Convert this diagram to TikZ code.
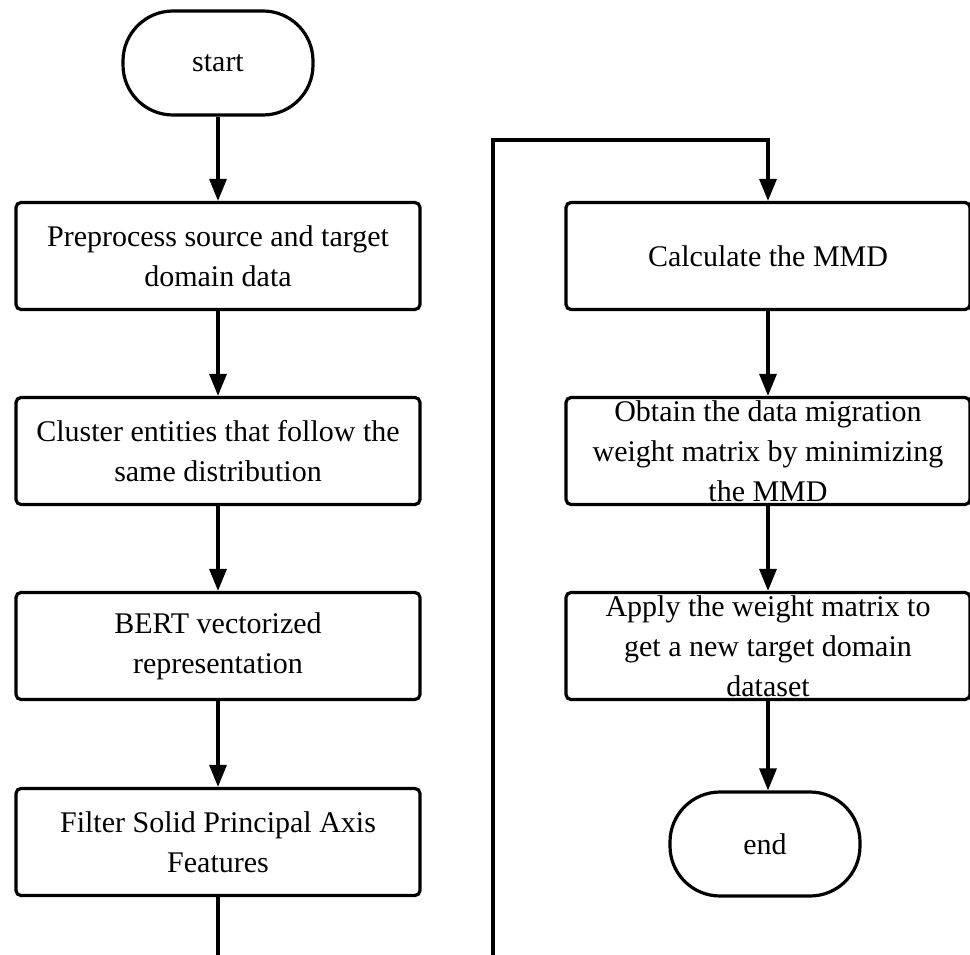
\documentclass[tikz,border=0pt]{standalone}
\usepackage{fontspec}
\setmainfont{Liberation Serif}
\usetikzlibrary{arrows.meta}
\tikzset{
  stepbox/.style={draw, line width=3.2pt, rounded corners=5pt, align=center,
    minimum width=404pt, minimum height=107pt, inner sep=0pt,
    font=\fontsize{30}{40}\selectfont},
  termbox/.style={draw, line width=3.2pt, rounded corners=50pt, align=center,
    minimum width=190pt, minimum height=104pt, inner sep=0pt,
    font=\fontsize{30}{40}\selectfont},
  flow/.style={line width=3.2pt, -{Triangle[length=22pt,width=17pt]}}
}
\begin{document}
\begin{tikzpicture}[x=1pt,y=-1pt]
\useasboundingbox (0,0) rectangle (970,955);
% left column
\node[termbox] (start) at (218,63) {start};
\node[stepbox] (prep) at (218,256) {Preprocess source and target\\domain data};
\node[stepbox] (clus) at (218,451) {Cluster entities that follow the\\same distribution};
\node[stepbox] (bert) at (218,646) {BERT vectorized\\representation};
\node[stepbox] (filt) at (218,842) {Filter Solid Principal Axis\\Features};
% right column
\node[stepbox] (mmd) at (768,256) {Calculate the MMD};
\node[stepbox] (obtain) at (768,451) {Obtain the data migration\\weight matrix by minimizing\\the MMD};
\node[stepbox] (apply) at (768,646) {Apply the weight matrix to\\get a new target domain\\dataset};
\node[termbox] (end) at (765,844) {end};
\coordinate (low) at (218,1000);
\coordinate (lowr) at (493,1000);
\coordinate (top) at (493,140);
\coordinate (topr) at (768,140);
\draw[flow] (start) -- (prep);
\draw[flow] (prep) -- (clus);
\draw[flow] (clus) -- (bert);
\draw[flow] (bert) -- (filt);
\draw[flow] (filt) -- (low) -- (lowr) -- (top) -- (topr) -- (mmd);
\draw[flow] (mmd) -- (obtain);
\draw[flow] (obtain) -- (apply);
\draw[flow] (apply.south) -- (end.north -| apply.south);
\end{tikzpicture}
\end{document}
